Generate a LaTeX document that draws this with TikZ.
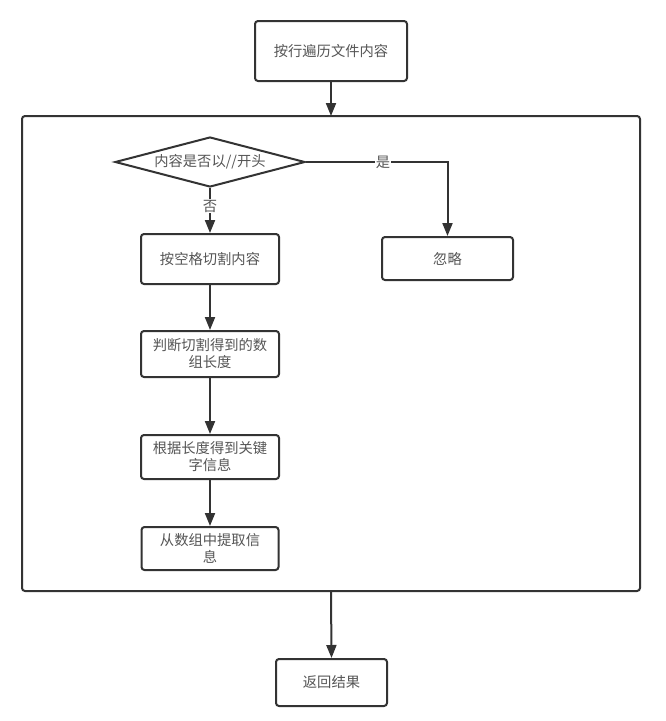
\documentclass[tikz,border=0pt]{standalone}
\usepackage{fontspec}
\newfontfamily\cjk{Noto Sans CJK SC}
\usetikzlibrary{arrows.meta,shapes.geometric}
\definecolor{ln}{HTML}{333333}
\definecolor{tx}{HTML}{555555}
\begin{document}
\begin{tikzpicture}[x=1pt,y=-1pt,
  every node/.style={font=\cjk\fontsize{14.3}{17}\selectfont, text=tx},
  box/.style={draw=ln, line width=2pt, rounded corners=3pt, align=center, inner sep=0pt, fill=white},
  dec/.style={draw=ln, line width=2pt, diamond, inner sep=0pt, minimum width=190pt, minimum height=50pt, aspect=3.8},
  conn/.style={draw=ln, line width=2pt, -{Triangle[length=13pt,width=10pt]}},
  lbl/.style={fill=white, inner sep=1pt}]
\useasboundingbox (0,0) rectangle (666,721);
\node[box, minimum width=618pt, minimum height=475pt] (frame) at (331,353.5) {};
\node[box, minimum width=152pt, minimum height=60pt] (start) at (331,51) {按行遍历文件内容};
\node[dec] (cond) at (210,162) {内容是否以//开头};
\node[box, minimum width=138pt, minimum height=50pt] (split) at (210,259) {按空格切割内容};
\node[box, minimum width=131pt, minimum height=43pt] (ignore) at (447.5,258.5) {忽略};
\node[box, minimum width=138pt, minimum height=46pt] (len) at (210,354) {判断切割得到的数\\组长度};
\node[box, minimum width=138pt, minimum height=44pt] (key) at (210,457) {根据长度得到关键\\字信息};
\node[box, minimum width=137pt, minimum height=43pt] (extract) at (210,548.5) {从数组中提取信\\息};
\node[box, minimum width=111pt, minimum height=47pt] (ret) at (331.5,682.5) {返回结果};
\coordinate (ftop) at (331,116);
\coordinate (fbot) at (331,591);
\draw[conn] (start.south) -- (ftop);
\draw[conn] (cond.east) -- (447.5,162) node[lbl] at (383,162) {是} -- (ignore.north);
\draw[conn] (cond.south) -- (split.north) node[lbl, pos=0.4] {否};
\draw[conn] (split.south) -- (len.north);
\draw[conn] (len.south) -- (key.north);
\draw[conn] (key.south) -- (extract.north);
\draw[conn] (fbot) -- (ret.north);
\end{tikzpicture}
\end{document}
